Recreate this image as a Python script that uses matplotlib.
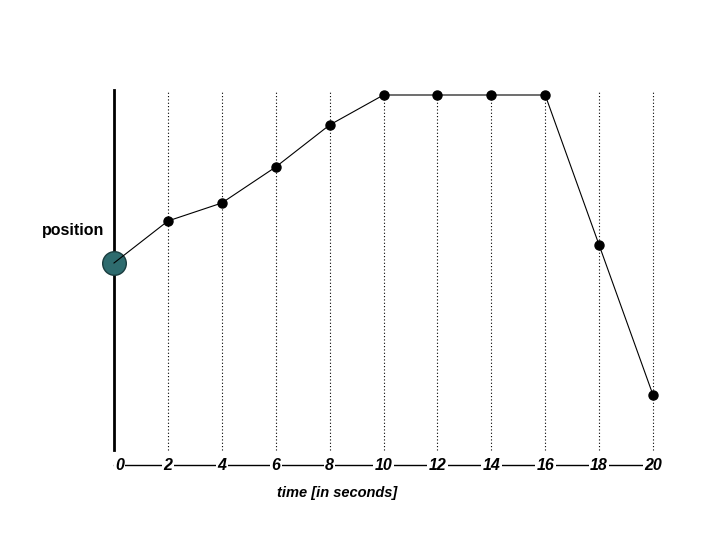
import matplotlib
matplotlib.use('Agg')
import matplotlib.pyplot as plt
from matplotlib.transforms import blended_transform_factory

times = [0, 2, 4, 6, 8, 10, 12, 14, 16, 18, 20]
positions = [0.0, 2.1, 3.0, 4.8, 6.9, 8.4, 8.4, 8.4, 8.4, 0.9, -6.6]
tick_labels = [str(t) for t in times]

plt.rcParams['font.family'] = ['Liberation Sans', 'DejaVu Sans']

fig = plt.figure(figsize=(7.2, 5.4), dpi=100)
W, H = 720, 540
ax = fig.add_axes([114 / W, (H - 450) / H, (653 - 114) / W, 360 / H])
ax.set_xlim(0, 20)
ax.set_ylim(-9.35, 8.65)
ax.axis('off')

# left vertical axis line
ax.plot([0, 0], [-9.35, 8.65], color='black', lw=2, clip_on=False, zorder=2)

# dotted gridlines
for t in times[1:]:
    ax.plot([t, t], [-9.35, 8.65], color='black', lw=0.8, ls=(0, (1, 2)),
            clip_on=False, zorder=1)

# start marker, then the line drawn over it
ax.plot(times[:1], positions[:1], 'o', color='#2e6b6e', mec='#1a3c3e',
        ms=17, zorder=2.5, clip_on=False)
ax.plot(times, positions, color='black', lw=0.8, zorder=3, clip_on=False)
ax.plot(times[1:], positions[1:], 'o', color='black', ms=6.5, zorder=4,
        clip_on=False)

# bottom axis with labels on the line
tr = blended_transform_factory(ax.transData, fig.transFigure)
y_lab = (H - 465) / H
ax.plot([0, 20], [y_lab, y_lab], color='black', lw=1, transform=tr,
        clip_on=False)
for t, lab in zip(times, tick_labels):
    ax.text(t + (0.2 if t == 0 else 0), y_lab, lab, transform=tr,
            ha='center', va='center', fontsize=11.5, fontweight='bold',
            fontstyle='italic',
            bbox=dict(facecolor='white', edgecolor='none', pad=1.0))

fig.text(337 / W, (H - 493) / H, 'time [in seconds]', ha='center',
         va='center', fontsize=10.5, fontweight='bold', fontstyle='italic')
fig.text(73 / W, (H - 231) / H, 'position', ha='center', va='center',
         fontsize=11.5, fontweight='bold')

fig.savefig('out.png', dpi=100)
